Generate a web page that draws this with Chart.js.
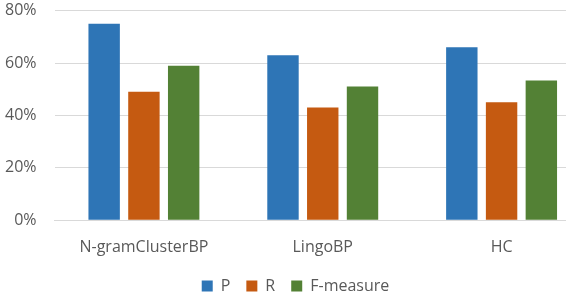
<!DOCTYPE html>
<html>
<head>
<meta charset="utf-8">
<script src="https://cdn.jsdelivr.net/npm/chart.js@4/dist/chart.umd.min.js"></script>
<style>
  html, body { margin: 0; padding: 0; background: #fff; overflow: hidden; }
  /* the plot runs past the right edge in the reference, so the canvas is wider than the window */
  #wrap { width: 605px; height: 321px; margin-top: -17px; }
</style>
</head>
<body>
<div id="wrap"><canvas id="bars"></canvas></div>
<script>
const categories = ['N-gramClusterBP', 'LingoBP', 'HC'];
const seriesNames = ['P', 'R', 'F-measure'];
const pValues = [75, 63, 66];
const rValues = [49, 43, 45];
const fValues = [59, 51, 53.3];
const yTicks = [0, 20, 40, 60, 80];

const COLORS = ['#2E75B6', '#C55A11', '#538135'];
const TEXT = '#595959';
const FONT = { family: "'Open Sans', 'Noto Sans', sans-serif", size: 16 };

const buildDataset = (label, data, color) => ({
  label: label,
  data: data,
  backgroundColor: color,
  borderWidth: 0,
  categoryPercentage: 0.667,
  barPercentage: 0.79,
});

const config = {
  type: 'bar',
  data: {
    labels: categories,
    datasets: [
      buildDataset(seriesNames[0], pValues, COLORS[0]),
      buildDataset(seriesNames[1], rValues, COLORS[1]),
      buildDataset(seriesNames[2], fValues, COLORS[2]),
    ],
  },
  options: {
    responsive: true,
    maintainAspectRatio: false,
    animation: false,
    layout: { autoPadding: false, padding: { top: 0, left: 0, right: 14, bottom: 0 } },
    plugins: {
      tooltip: { enabled: false },
      legend: {
        position: 'bottom',
        labels: {
          color: TEXT,
          font: FONT,
          boxWidth: 11,
          boxHeight: 11,
          padding: 16,
        },
      },
    },
    scales: {
      x: {
        afterFit: (scale) => { scale.height = 41.7; },
        grid: { display: false },
        border: { color: '#d9d9d9', width: 1 },
        ticks: { color: TEXT, font: FONT, padding: 10 },
      },
      y: {
        min: 0,
        max: 80,
        afterFit: (scale) => { scale.width = 54.5; },
        afterBuildTicks: (scale) => { scale.ticks = yTicks.map((v) => ({ value: v })); },
        grid: { color: '#d9d9d9', drawTicks: false },
        border: { display: false },
        ticks: {
          color: TEXT,
          font: FONT,
          padding: 18,
          callback: (value) => value + '%',
        },
      },
    },
  },
};

new Chart(document.getElementById('bars'), config);
</script>
</body>
</html>
